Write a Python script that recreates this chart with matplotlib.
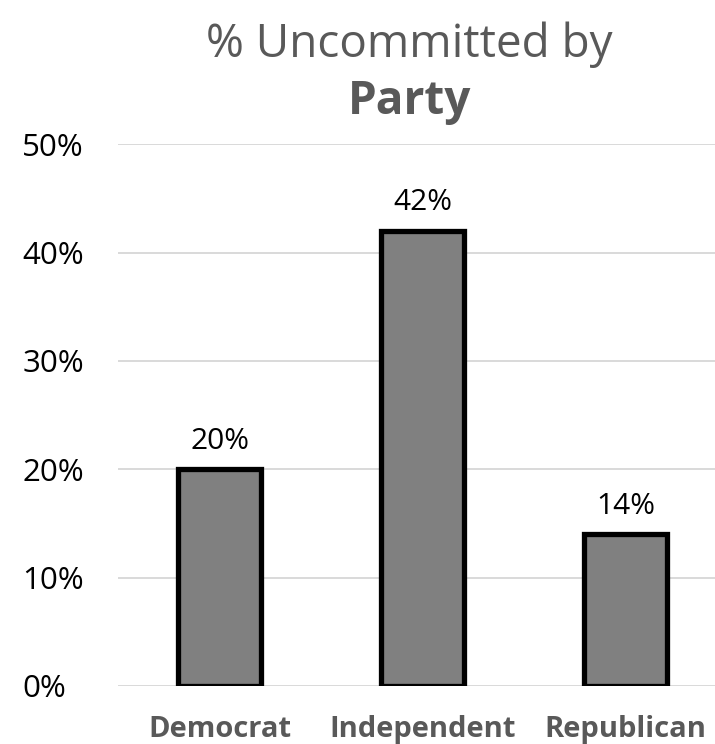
import matplotlib

matplotlib.use("Agg")
import matplotlib.pyplot as plt
from matplotlib.ticker import FuncFormatter

parties = ["Democrat", "Independent", "Republican"]
uncommitted = [20, 42, 14]
yticks = [0, 10, 20, 30, 40, 50]

plt.rcParams["font.family"] = ["Open Sans", "DejaVu Sans"]

fig = plt.figure(figsize=(7.15, 7.44), dpi=100)
ax = fig.add_axes([0.165, 0.078, 0.835, 0.728])

x = range(len(parties))
ax.bar(x, uncommitted, width=0.41, color="#808080", edgecolor="black", linewidth=3.8, zorder=3)

# labels above the bars
for i, v in zip(x, uncommitted):
    ax.text(i, v + 2.6, f"{v}%", ha="center", va="center", fontsize=21.5, color="black")

ax.set_xlim(-0.5, 2.44)
ax.set_ylim(0, 50)
ax.set_yticks(yticks)
ax.yaxis.set_major_formatter(FuncFormatter(lambda v, p: f"{v:.0f}%"))
ax.grid(axis="y", color="#d9d9d9", linewidth=1.4, zorder=0)
ax.set_axisbelow(True)

ax.set_xticks(list(x))
ax.set_xticklabels(parties, fontsize=21, fontweight="bold", color="#595959")
ax.tick_params(axis="x", length=0, pad=21)
ax.tick_params(axis="y", length=0, pad=69, labelsize=22.5, labelcolor="black")
for lab in ax.get_yticklabels():
    lab.set_horizontalalignment("left")
for s in ax.spines.values():
    s.set_visible(False)

fig.text(0.573, 0.94, "% Uncommitted by", ha="center", va="center", fontsize=33, color="#595959")
fig.text(0.573, 0.864, "Party", ha="center", va="center", fontsize=33, fontweight="bold", color="#595959")

fig.savefig("out.png", dpi=100)
